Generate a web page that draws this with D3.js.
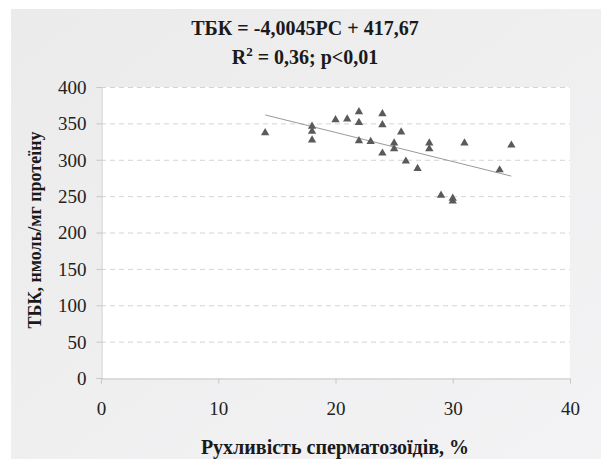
<html>
<head>
<meta charset="utf-8">
<script src="https://d3js.org/d3.v7.min.js"></script>
<style>
  body { margin: 0; background: #fff; }
  text { font-family: "Liberation Serif", "Times New Roman", serif; }
</style>
</head>
<body>
<div class="chart"></div>
<script>
var width = 601,
    height = 459;

// motility, %
var xs = [14, 18, 18, 18, 20, 21, 22, 22, 22, 23, 24, 24, 24, 25, 25, 25.6, 26, 27, 28, 28, 29, 30, 30, 31, 34, 35];
// TBK, nmol/mg protein
var ys = [337, 346, 339, 327, 355, 356, 366, 351, 326, 325, 363, 348, 309, 323, 315, 338, 298, 288, 323, 315, 251, 247, 243, 323, 286, 320];
var xTicks = [0, 10, 20, 30, 40];
var yTicks = [0, 50, 100, 150, 200, 250, 300, 350, 400];
var slope = -4.0045, intercept = 417.67;
var trendX = [14, 35];

var svg = d3.select(".chart")
  .append("svg")
  .attr("width", width)
  .attr("height", height);

var defs = svg.append("defs");
var grad = defs.append("linearGradient")
  .attr("id", "bg")
  .attr("x1", "0").attr("y1", "0")
  .attr("x2", "1").attr("y2", "1");
grad.append("stop").attr("offset", "0%").attr("stop-color", "#ebebeb");
grad.append("stop").attr("offset", "100%").attr("stop-color", "#f3f3f5");

svg.append("rect")
  .attr("x", 11).attr("y", 9)
  .attr("width", width - 11).attr("height", height - 9)
  .attr("fill", "url(#bg)");

var x = d3.scaleLinear().domain([0, 40]).range([101, 570]);
var y = d3.scaleLinear().domain([0, 400]).range([378, 87]);

svg.append("rect")
  .attr("x", x(0)).attr("y", y(400))
  .attr("width", x(40) - x(0)).attr("height", y(0) - y(400))
  .attr("fill", "#fff");

// dashed grid
svg.append("g")
  .selectAll("line")
  .data(yTicks.filter(function (d) { return d > 0; }))
  .enter()
  .append("line")
  .attr("x1", x(0)).attr("x2", x(40))
  .attr("y1", function (d) { return y(d) + 0.5; })
  .attr("y2", function (d) { return y(d) + 0.5; })
  .style("stroke", "#d4d4d4")
  .style("stroke-dasharray", "5,4");

var xAxis = svg.append("g")
  .attr("transform", "translate(0," + (y(0) + 0.5) + ")")
  .call(d3.axisBottom(x).tickValues(xTicks).tickSize(5).tickPadding(18));

var yAxis = svg.append("g")
  .attr("transform", "translate(" + (x(0) + 0.5) + ",0)")
  .call(d3.axisLeft(y).tickValues(yTicks).tickSize(5).tickPadding(10));

[xAxis, yAxis].forEach(function (a) {
  a.select(".domain").style("stroke", "#c8c8c8");
  a.selectAll(".tick line").style("stroke", "#c8c8c8");
  a.selectAll(".tick text")
    .style("font-family", "'Liberation Serif', serif")
    .style("font-size", "19px")
    .style("fill", "#222");
});
xAxis.selectAll(".tick text").attr("dy", "0.71em");
yAxis.selectAll(".tick text").attr("dy", "0.34em");

// trend line
svg.append("line")
  .attr("x1", x(trendX[0])).attr("y1", y(slope * trendX[0] + intercept))
  .attr("x2", x(trendX[1])).attr("y2", y(slope * trendX[1] + intercept))
  .style("stroke", "#9a9a9a")
  .style("stroke-width", 1);

// points
svg.append("g")
  .selectAll("path")
  .data(xs)
  .enter()
  .append("path")
  .attr("d", d3.symbol().type(d3.symbolTriangle).size(30))
  .attr("transform", function (d, i) { return "translate(" + x(d) + "," + y(ys[i]) + ")"; })
  .attr("fill", "#5a5a5a");

// titles
svg.append("text")
  .attr("x", 305).attr("y", 35)
  .attr("text-anchor", "middle")
  .style("font-weight", "bold").style("font-size", "20px").style("fill", "#1a1a1a")
  .text("ТБК = -4,0045РС + 417,67");

var t2 = svg.append("text")
  .attr("x", 305).attr("y", 64)
  .attr("text-anchor", "middle")
  .style("font-weight", "bold").style("font-size", "20px").style("fill", "#1a1a1a");
t2.append("tspan").text("R");
t2.append("tspan").attr("dy", -8).style("font-size", "13px").text("2");
t2.append("tspan").attr("dy", 8).text(" = 0,36; p<0,01");

svg.append("text")
  .attr("x", 335).attr("y", 454)
  .attr("text-anchor", "middle")
  .style("font-weight", "bold").style("font-size", "20px").style("fill", "#1a1a1a")
  .text("Рухливість сперматозоїдів, %");

svg.append("text")
  .attr("transform", "translate(41,230) rotate(-90)")
  .attr("text-anchor", "middle")
  .style("font-weight", "bold").style("font-size", "18px").style("fill", "#1a1a1a")
  .text("ТБК, нмоль/мг протеїну");
</script>
</body>
</html>
